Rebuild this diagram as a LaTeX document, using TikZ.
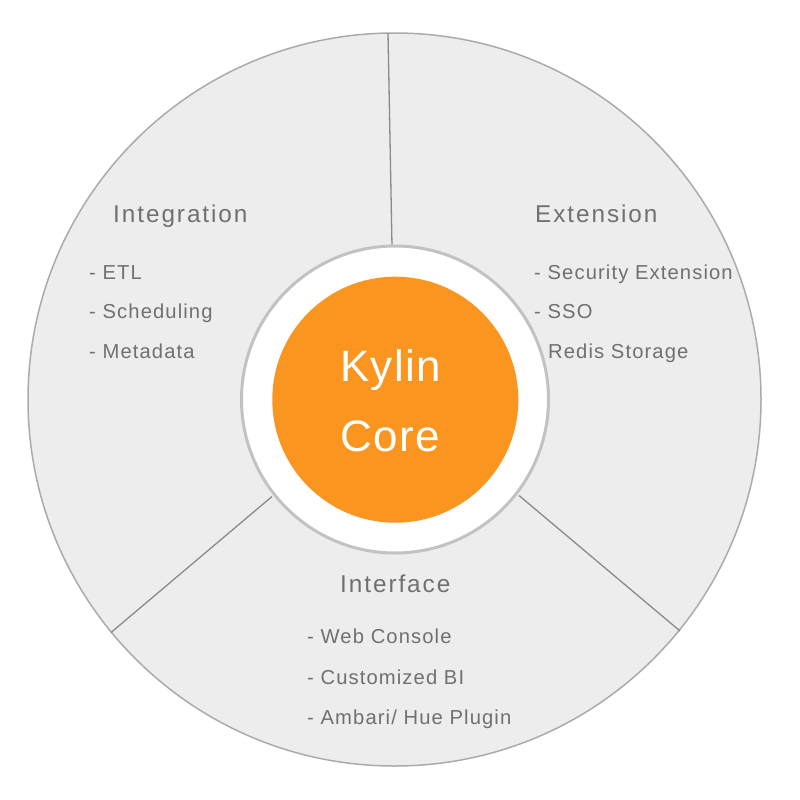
\documentclass[tikz,border=0pt]{standalone}
\usepackage{fontspec}
\setmainfont{Liberation Sans}
\newfontfamily\titlefont[LetterSpace=8]{Liberation Sans}
\newfontfamily\itemfont[LetterSpace=5.5]{Liberation Sans}
\newfontfamily\corefont[LetterSpace=3]{Liberation Sans}
\definecolor{ringfill}{HTML}{EDEDED}
\definecolor{ringline}{HTML}{ABABAB}
\definecolor{divline}{HTML}{8A8A8A}
\definecolor{innerline}{HTML}{C2C2C2}
\definecolor{kylinorange}{HTML}{FA961F}
\definecolor{txtgray}{HTML}{707070}
\begin{document}
\begin{tikzpicture}[x=1pt,y=-1pt,
  titletxt/.style={anchor=base west,inner sep=0pt,text=txtgray,font=\titlefont\fontsize{24.3}{28}\selectfont},
  itemtxt/.style={anchor=base west,inner sep=0pt,text=txtgray,font=\itemfont\fontsize{20.2}{24}\selectfont},
  coretxt/.style={anchor=base west,inner sep=0pt,text=white,font=\corefont\fontsize{44}{50}\selectfont},
  divider/.style={draw=divline,line width=1.3pt}]
\useasboundingbox (0,0) rectangle (800,800);
\fill[white] (0,0) rectangle (800,800);
% outer disc
\node (outer) [circle,draw=ringline,line width=1.5pt,fill=ringfill,minimum size=733pt,inner sep=0pt] at (394.5,399.5) {};
% dividers
\coordinate (t1) at (388,33);
\coordinate (t2) at (392,246);
\coordinate (l1) at (111,632.5);
\coordinate (l2) at (272,496.5);
\coordinate (r1) at (680,631);
\coordinate (r2) at (519,495.5);
\draw[divider] (t1) -- (t2);
\draw[divider] (l1) -- (l2);
\draw[divider] (r1) -- (r2);
% white ring
\node (ring) [circle,draw=innerline,line width=3pt,fill=white,minimum size=307pt,inner sep=0pt] at (395,399.5) {};
% orange core
\node (core) [circle,fill=kylinorange,minimum size=246pt,inner sep=0pt] at (395.3,399.7) {};
\node (kylin) [coretxt] at (340,381) {Kylin};
\node (coreb) [coretxt] at (340,451) {Core};
% Integration
\node (integ) [titletxt] at (113,222) {Integration};
\node (etl) [itemtxt] at (89,279) {- ETL};
\node (sched) [itemtxt] at (89,318.5) {- Scheduling};
\node (meta) [itemtxt] at (89,358) {- Metadata};
% Extension
\node (ext) [titletxt] at (535,222) {Extension};
\node (sec) [itemtxt] at (534,279) {- Security Extension};
\node (sso) [itemtxt] at (534,318.5) {- SSO};
\node (redis) [itemtxt] at (548,358) {Redis Storage};
% Interface
\node (iface) [titletxt] at (340,592) {Interface};
\node (web) [itemtxt] at (307,643.5) {- Web Console};
\node (cbi) [itemtxt] at (307,684) {- Customized BI};
\node (amb) [itemtxt] at (307,724) {- Ambari/ Hue Plugin};
\end{tikzpicture}
\end{document}
